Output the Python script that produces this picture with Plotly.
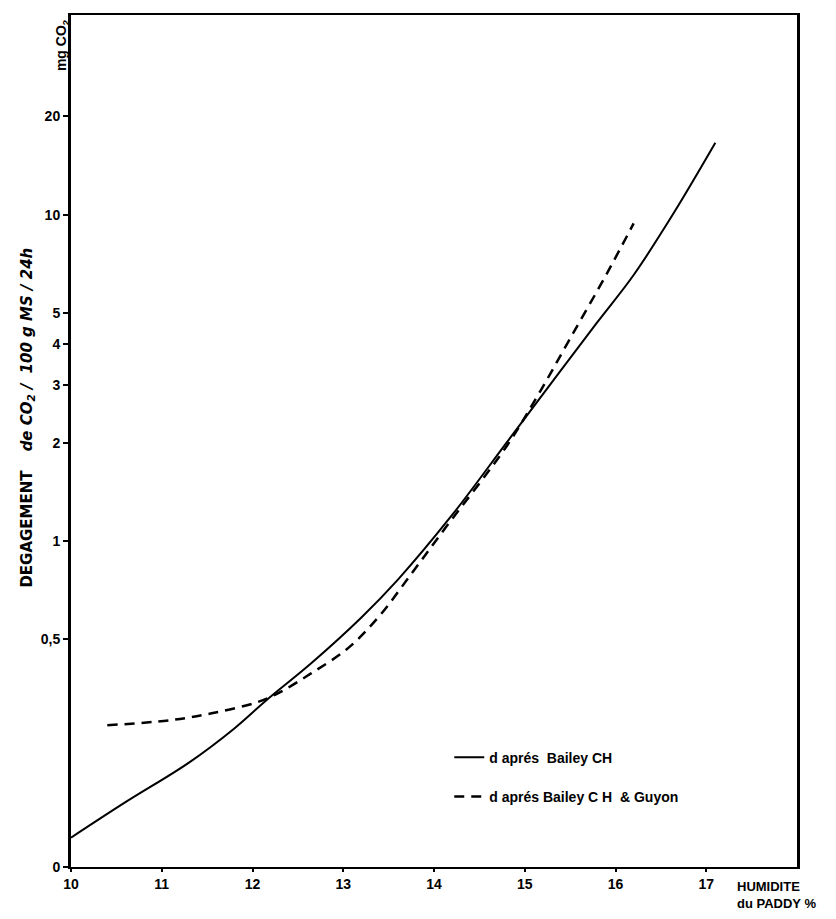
import plotly.graph_objects as go

# Courbe "d'aprés Bailey CH" (trait plein)
bailey_x = [10.0, 10.6, 11.3, 11.8, 12.15, 12.65, 13.2, 13.6, 14.2, 14.8, 15.35, 15.8, 16.2, 16.65, 17.1]
bailey_y = [0.123, 0.158, 0.209, 0.266, 0.324, 0.422, 0.582, 0.759, 1.20, 2.0, 3.2, 4.68, 6.53, 10.2, 16.6]

# Courbe "d'aprés Bailey CH & Guyon" (tirets)
guyon_x = [10.4, 11.1, 11.55, 12.05, 12.3, 12.65, 13.05, 13.4, 13.78, 14.13, 14.8, 15.15, 15.5, 15.9, 16.2]
guyon_y = [0.272, 0.282, 0.296, 0.320, 0.343, 0.393, 0.468, 0.589, 0.813, 1.10, 1.95, 2.81, 4.17, 6.56, 9.4]

# Axes
x_ticks = [10, 11, 12, 13, 14, 15, 16, 17]
y_ticks = [0.1, 0.5, 1, 2, 3, 4, 5, 10, 20]
y_labels = ["0", "0,5", "1", "2", "3", "4", "5", "10", "20"]

font_main = "Liberation Sans"

fig = go.Figure()
fig.add_scatter(x=bailey_x, y=bailey_y, mode="lines", name="d aprés  Bailey CH",
                line=dict(color="black", width=2, shape="spline"), legendgroup="a")
fig.add_scatter(x=guyon_x, y=guyon_y, mode="lines", name="d aprés Bailey C H  & Guyon",
                line=dict(color="black", width=2.5, shape="spline", dash="10px,7px"), legendgroup="b")

# la page a une marge de 8px autour du graphique
fig.update_layout(
    width=836, height=919,
    margin=dict(l=63, r=47, t=5, b=60),
    plot_bgcolor="white", paper_bgcolor="white",
    font=dict(family=font_main, size=14, color="black"),
    legend=dict(x=0.521, y=0.147, xanchor="left", yanchor="top",
                bgcolor="rgba(0,0,0,0)", tracegroupgap=18,
                font=dict(size=14, family=font_main, weight="bold")),
    xaxis=dict(range=[10, 18], tickvals=x_ticks, ticktext=[str(v) for v in x_ticks],
               showgrid=False, zeroline=False, showline=True, linecolor="black",
               linewidth=2, mirror=True, ticks="outside", ticklen=3, tickwidth=1.5,
               tickcolor="black", tickfont=dict(size=14, weight="bold")),
    yaxis=dict(type="log", range=[-1, 1.612], tickvals=y_ticks, ticktext=y_labels,
               showgrid=False, zeroline=False, showline=True, linecolor="black",
               linewidth=3, mirror=True, ticks="outside", ticklen=5, tickwidth=1.5,
               tickcolor="black", tickfont=dict(size=14, weight="bold")),
)

# titre vertical de l'axe Y
fig.add_annotation(xref="paper", yref="paper", x=-0.060, y=0.528, textangle=-90,
                   text="<b>DEGAGEMENT</b>    <b><i>de CO<sub>2</sub> / </i></b> <b><i>100 g MS / 24h</i></b>",
                   showarrow=False, font=dict(size=15, family="DejaVu Sans"),
                   xanchor="center", yanchor="middle")
fig.add_annotation(xref="paper", yref="paper", x=-0.012, y=0.965, textangle=-90,
                   text="<b>mg CO<sub>2</sub></b>", showarrow=False, font=dict(size=14),
                   xanchor="center", yanchor="middle")

# titre de l'axe X
fig.add_annotation(xref="paper", yref="paper", x=0.915, y=-0.012, xanchor="left", yanchor="top",
                   text="<b>HUMIDITE</b><br><b>du PADDY %</b>", showarrow=False, align="left",
                   font=dict(size=13))

fig.write_html("out.html")
